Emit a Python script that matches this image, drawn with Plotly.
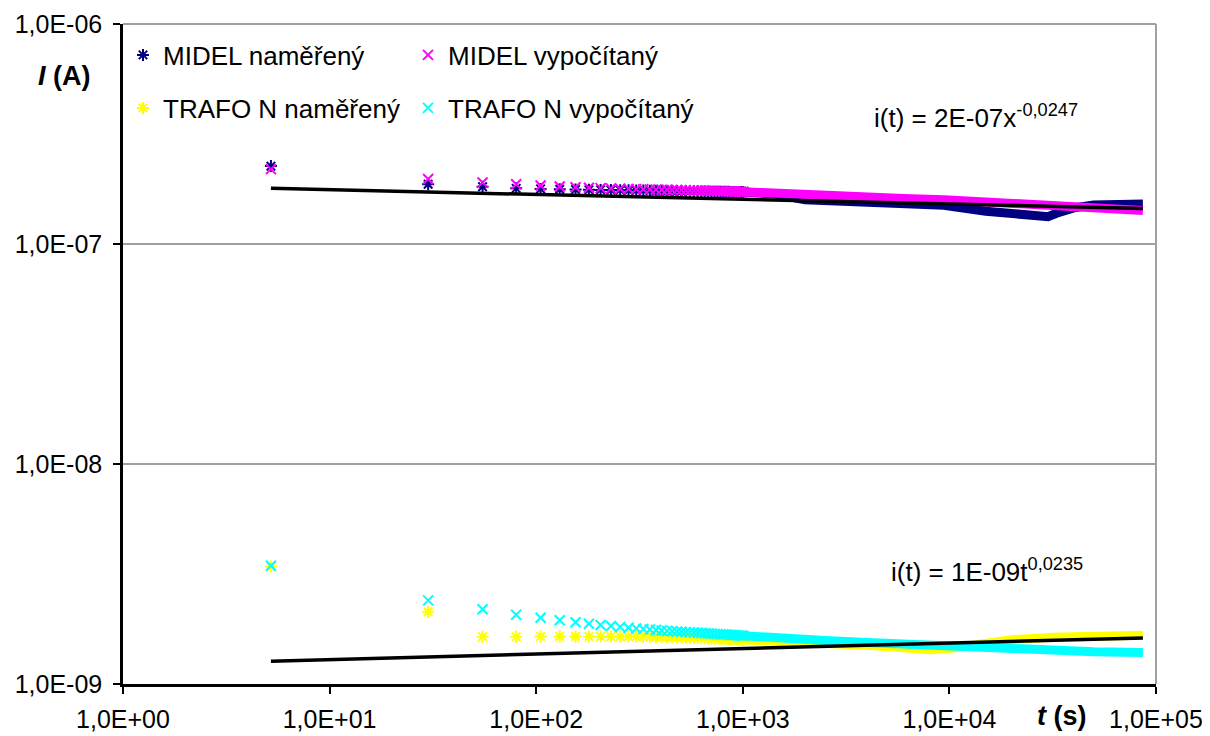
import plotly.graph_objects as go

# ---------------- data ----------------
# time (s) of the individually visible samples
t_pts = [5.2, 30, 55, 80, 105, 130, 155, 180, 205, 230, 255, 280, 305, 330, 355,
         380, 405, 430, 455, 480, 505, 530, 555, 580, 605, 630, 655, 680, 705,
         730, 755, 780, 805, 830, 855, 880, 905, 930, 955, 980, 1005]

# MIDEL currents, units of 1e-7 A
midel_meas_pts = [2.26, 1.87, 1.82, 1.79, 1.78, 1.775, 1.77, 1.765, 1.762, 1.76,
                  1.757, 1.755, 1.752, 1.75, 1.748, 1.746, 1.744, 1.742, 1.74,
                  1.739, 1.738, 1.737, 1.736, 1.735, 1.734, 1.733, 1.732, 1.731,
                  1.73, 1.73, 1.729, 1.728, 1.727, 1.727, 1.726, 1.725, 1.725,
                  1.724, 1.723, 1.723, 1.722]
midel_calc_pts = [2.19, 1.975, 1.905, 1.87, 1.845, 1.825, 1.812, 1.802, 1.795,
                  1.789, 1.784, 1.78, 1.776, 1.773, 1.77, 1.767, 1.765, 1.763,
                  1.761, 1.759, 1.757, 1.755, 1.753, 1.751, 1.749, 1.747, 1.745,
                  1.744, 1.742, 1.741, 1.739, 1.738, 1.736, 1.735, 1.734, 1.732,
                  1.731, 1.73, 1.729, 1.728, 1.727]

# TRAFO N currents, units of 1e-9 A
trafo_meas_pts = [3.42, 2.13, 1.64, 1.64, 1.645, 1.645, 1.645, 1.645, 1.645,
                  1.645, 1.645, 1.643, 1.642, 1.64, 1.638, 1.636, 1.634, 1.632,
                  1.63, 1.628, 1.626, 1.624, 1.622, 1.62, 1.618, 1.616, 1.614,
                  1.612, 1.61, 1.608, 1.606, 1.604, 1.602, 1.60, 1.598, 1.596,
                  1.594, 1.592, 1.59, 1.588, 1.586]
trafo_calc_pts = [3.45, 2.40, 2.185, 2.066, 2.00, 1.948, 1.91, 1.88, 1.855,
                  1.835, 1.817, 1.802, 1.789, 1.778, 1.768, 1.759, 1.751, 1.744,
                  1.738, 1.732, 1.727, 1.722, 1.717, 1.713, 1.709, 1.705, 1.701,
                  1.697, 1.694, 1.69, 1.687, 1.684, 1.681, 1.678, 1.675, 1.672,
                  1.669, 1.666, 1.663, 1.66, 1.657]

# dense part of the record (samples merge into a band)
t_band_midel = [1005, 1400, 2000, 3000, 4000, 6000, 9400, 15000, 20000, 25000,
                30000, 33000, 40000, 50000, 60000, 86400]
midel_meas_band = [1.722, 1.69, 1.59, 1.565, 1.55, 1.53, 1.50, 1.41, 1.38, 1.36,
                   1.33, 1.38, 1.46, 1.505, 1.52, 1.52]
midel_calc_band = [1.727, 1.70, 1.67, 1.65, 1.636, 1.61, 1.59, 1.56, 1.536,
                   1.525, 1.515, 1.51, 1.50, 1.48, 1.46, 1.42]

t_band_trafo = [1005, 1500, 2500, 4000, 6000, 8000, 10000, 14000, 20000, 32000,
                50000, 86400]
trafo_meas_band = [1.586, 1.57, 1.54, 1.50, 1.46, 1.43, 1.45, 1.53, 1.59, 1.63,
                   1.65, 1.665]
trafo_calc_band = [1.657, 1.61, 1.575, 1.545, 1.518, 1.495, 1.485, 1.464, 1.44,
                   1.417, 1.40, 1.39]

# power-law trend lines (end points)
trend_t = [5.2, 86400]
trend_midel = [1.79e-7, 1.45e-7]
trend_trafo = [1.27e-9, 1.62e-9]

scale_midel = 1e-7
scale_trafo = 1e-9

x_tickvals = [1, 10, 100, 1000, 10000, 100000]
x_ticktext = ["1,0E+00", "1,0E+01", "1,0E+02", "1,0E+03", "1,0E+04", "1,0E+05"]
y_tickvals = [1e-9, 1e-8, 1e-7, 1e-6]
y_ticktext = ["1,0E-09", "1,0E-08", "1,0E-07", "1,0E-06"]

names = ["MIDEL naměřený", "MIDEL vypočítaný", "TRAFO N naměřený", "TRAFO N vypočítaný"]
colors = ["#000080", "#FF00FF", "#FFFF00", "#00FFFF"]
symbols = ["asterisk-open", "x-thin-open", "asterisk-open", "x-thin-open"]

FONT = "Liberation Sans, Arial, sans-serif"

series = [
    (t_pts, midel_meas_pts, t_band_midel, midel_meas_band, scale_midel, "legend"),
    (t_pts, midel_calc_pts, t_band_midel, midel_calc_band, scale_midel, "legend2"),
    (t_pts, trafo_meas_pts, t_band_trafo, trafo_meas_band, scale_trafo, "legend3"),
    (t_pts, trafo_calc_pts, t_band_trafo, trafo_calc_band, scale_trafo, "legend4"),
]

fig = go.Figure()
for i, (tp, vp, tb, vb, sc, lg) in enumerate(series):
    fig.add_trace(go.Scatter(
        x=tp, y=[v * sc for v in vp], mode="markers", name=names[i],
        marker=dict(symbol=symbols[i], size=10, color=colors[i],
                    line=dict(color=colors[i], width=2)),
        legend=lg, showlegend=True))
    fig.add_trace(go.Scatter(
        x=tb, y=[v * sc for v in vb], mode="lines",
        line=dict(color=colors[i], width=9), showlegend=False, hoverinfo="skip"))

fig.add_trace(go.Scatter(x=trend_t, y=trend_midel, mode="lines",
                         line=dict(color="black", width=3.5), showlegend=False))
fig.add_trace(go.Scatter(x=trend_t, y=trend_trafo, mode="lines",
                         line=dict(color="black", width=3.5), showlegend=False))

# page body has an 8 px margin; size the figure so the plot area lands where
# the reference has it (x 123..1156, y 24..684 in window pixels)
OFF = 8
W, H = 1202, 728
L, T = 115, 16
pw, ph = 1033, 660
R, B = W - L - pw, H - T - ph


def px(xp):
    return (xp - OFF - L) / pw


def py(yp):
    return 1 - (yp - OFF - T) / ph


legend_style = dict(font=dict(family=FONT, size=26, color="black"),
                    bgcolor="rgba(0,0,0,0)", xanchor="left", yanchor="middle",
                    itemwidth=30)
fig.update_layout(
    width=W, height=H,
    margin=dict(l=L, r=R, t=T, b=B, autoexpand=False),
    plot_bgcolor="white", paper_bgcolor="white",
    font=dict(family=FONT, size=25, color="black"),
    legend=dict(x=px(123), y=py(55), **legend_style),
    legend2=dict(x=px(408), y=py(55), **legend_style),
    legend3=dict(x=px(123), y=py(108), **legend_style),
    legend4=dict(x=px(408), y=py(108), **legend_style),
    xaxis=dict(type="log", range=[0, 5], tickvals=x_tickvals, ticktext=x_ticktext,
               showgrid=False, zeroline=False, showline=True, linecolor="black",
               linewidth=2.5, ticks="outside", ticklen=7, tickwidth=2,
               tickcolor="black", ticklabelstandoff=4,
               tickfont=dict(family=FONT, size=25, color="black")),
    yaxis=dict(type="log", range=[-9, -6], tickvals=y_tickvals, ticktext=y_ticktext,
               showgrid=True, gridcolor="#a0a0a0", gridwidth=1.5, zeroline=False,
               showline=True, linecolor="black", linewidth=2.5, ticks="outside",
               ticklen=7, tickwidth=2, tickcolor="black", ticklabelstandoff=6,
               tickfont=dict(family=FONT, size=25, color="black")),
    shapes=[
        dict(type="line", xref="paper", yref="paper", x0=0, x1=1, y0=1, y1=1,
             line=dict(color="#a0a0a0", width=2)),
        dict(type="line", xref="paper", yref="paper", x0=1, x1=1, y0=0, y1=1,
             line=dict(color="#a0a0a0", width=2)),
    ],
    annotations=[
        dict(text="<b><i>I</i> (A)</b>", xref="paper", yref="paper",
             x=px(64), y=py(76), xanchor="center", yanchor="middle",
             showarrow=False, font=dict(family=FONT, size=27, color="black")),
        dict(text="<b><i>t</i> (s)</b>", xref="paper", yref="paper",
             x=px(1062), y=py(716), xanchor="center", yanchor="middle",
             showarrow=False, font=dict(family=FONT, size=27, color="black")),
        dict(text="i(t) = 2E-07x<sup>-0,0247</sup>", xref="paper", yref="paper",
             x=px(872), y=py(116), xanchor="left", yanchor="middle",
             showarrow=False, font=dict(family=FONT, size=26, color="black")),
        dict(text="i(t) = 1E-09t<sup>0,0235</sup>", xref="paper", yref="paper",
             x=px(889), y=py(570), xanchor="left", yanchor="middle",
             showarrow=False, font=dict(family=FONT, size=26, color="black")),
    ],
)

fig.write_html("out.html")
